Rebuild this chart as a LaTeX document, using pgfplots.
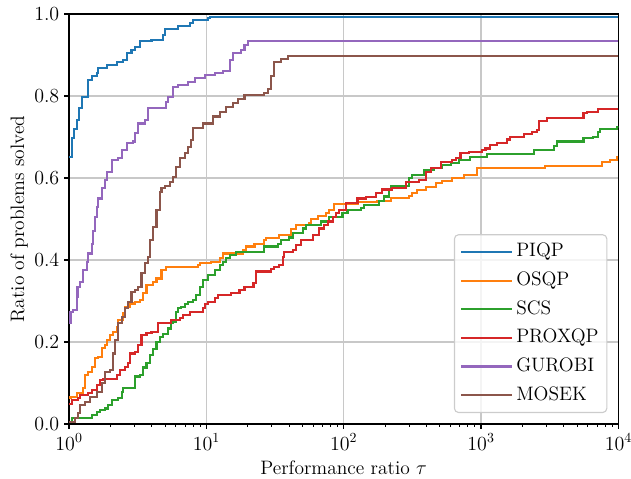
\documentclass[border=0pt]{standalone}
\usepackage{fontspec}
\usepackage{pgfplots}
\pgfplotsset{compat=1.18}
\definecolor{cpiqp}{HTML}{1F77B4}
\definecolor{cosqp}{HTML}{FF7F0E}
\definecolor{cscs}{HTML}{2CA02C}
\definecolor{cprox}{HTML}{D62728}
\definecolor{cgurobi}{HTML}{9467BD}
\definecolor{cmosek}{HTML}{8C564B}
\definecolor{gridgray}{RGB}{200,200,200}
\definecolor{framegray}{RGB}{204,204,204}
\newcommand{\fs}{\fontsize{14pt}{16pt}\selectfont}
\begin{document}
\begin{tikzpicture}
\useasboundingbox (0,0) rectangle (454.3pt,344.2pt);
\begin{axis}[
  at={(49.7pt,38.9pt)}, anchor=south west,
  scale only axis, width=395.5pt, height=295.2pt,
  xmode=log, xmin=1, xmax=10000, ymin=0, ymax=1,
  ytick={0,0.2,0.4,0.6,0.8,1},
  yticklabel style={/pgf/number format/.cd, fixed, fixed zerofill, precision=1},
  ticklabel style={font=\fs},
  label style={font=\fs},
  tick align=outside, tick pos=left,
  major tick length=3.5pt, minor tick length=2pt,
  every tick/.style={black, line width=0.8pt},
  minor tick style={line width=0.6pt},
  axis line style={line width=0.8pt},
  grid=major, major grid style={gridgray, line width=0.8pt},
  xlabel={Performance ratio $\tau$},
  ylabel={Ratio of problems solved},
  xlabel style={at={(axis description cs:0.5,0)}, anchor=base, yshift=-36pt},
  ylabel style={at={(axis description cs:-0.0819,0.5)}, anchor=base},
  every axis plot/.append style={const plot, line width=1.5pt, mark=none},
  legend cell align=left,
  legend image code/.code={\draw[#1] (0pt,0pt) -- (30pt,0pt);
    \path (0pt,0pt) -- (37pt,0pt);},
  legend style={at={(1,0)}, anchor=south east, xshift=-7.9pt, yshift=7.9pt,
    font=\fs, draw=framegray, line width=0.8pt, rounded corners=3pt,
    fill=white, fill opacity=0.8, draw opacity=1, text opacity=1,
    inner xsep=4pt, inner ysep=4pt, row sep=3.6pt,
    nodes={text height=10pt, text depth=3pt, inner sep=2pt}},
]
\addplot[cpiqp] coordinates {
(1,0.652) (1.046,0.697) (1.087,0.72) (1.137,0.741) (1.182,0.77) (1.236,0.797)
(1.367,0.839) (1.462,0.848) (1.589,0.857) (1.632,0.868) (1.878,0.876) (2.220,0.884)
(2.466,0.888) (2.624,0.906) (2.852,0.912) (3.014,0.920) (3.277,0.934) (3.986,0.937)
(4.813,0.949) (4.978,0.963) (6.184,0.971) (7.556,0.978) (7.947,0.985) (10.21,0.990)
(10.68,0.993) (10000,0.993)
};
\addlegendentry{PIQP}
\addplot[cosqp] coordinates {
(1,0.063) (1.025,0.067) (1.137,0.075) (1.270,0.087) (1.307,0.12) (1.381,0.128)
(1.462,0.14) (1.544,0.16) (1.632,0.164) (1.728,0.185) (1.825,0.193) (1.878,0.205)
(1.984,0.217) (2.097,0.225) (2.220,0.237) (2.280,0.254) (2.478,0.27) (2.551,0.286)
(2.773,0.294) (3.014,0.298) (3.277,0.302) (3.462,0.319) (3.665,0.339) (4.093,0.347)
(4.332,0.355) (4.710,0.376) (5.120,0.384) (8.685,0.388) (8.933,0.393) (10.86,0.396)
(12.48,0.404) (13.19,0.416) (18.42,0.424) (19.50,0.433) (22.40,0.44) (26.48,0.449)
(27.24,0.453) (34.02,0.461) (41.38,0.476) (44.98,0.485) (56.17,0.49) (57.80,0.499)
(64.52,0.507) (74.27,0.515) (78.47,0.523) (85.31,0.537) (126.0,0.542) (176.0,0.545)
(220.1,0.552) (298.9,0.556) (314.3,0.563) (343.4,0.571) (397,0.579) (467.0,0.587)
(521.5,0.593) (616.4,0.599) (749.6,0.607) (936.1,0.624) (2938,0.629) (7564,0.64)
(8705,0.644) (9720,0.652) (10000,0.652)
};
\addlegendentry{OSQP}
\addplot[cscs] coordinates {
(1,0.006) (1.046,0.014) (1.462,0.022) (1.589,0.03) (1.679,0.034) (1.825,0.038)
(1.929,0.046) (2.042,0.059) (2.280,0.063) (2.413,0.079) (2.478,0.087) (3.014,0.116)
(3.277,0.12) (3.462,0.138) (3.665,0.148) (3.873,0.168) (4.093,0.183) (4.332,0.201)
(4.577,0.213) (4.837,0.22) (5.259,0.233) (5.567,0.246) (5.716,0.25) (6.052,0.274)
(6.215,0.282) (6.578,0.286) (6.953,0.292) (7.346,0.298) (7.988,0.302) (8.453,0.315)
(8.933,0.335) (9.441,0.351) (10.26,0.363) (11.48,0.376) (12.48,0.388) (13.19,0.396)
(13.96,0.404) (14.75,0.412) (16.50,0.42) (26.48,0.433) (33.45,0.44) (35.00,0.449)
(40.22,0.455) (42.49,0.465) (50.23,0.477) (53.17,0.485) (68.31,0.494) (78.47,0.506)
(98.0,0.514) (106.6,0.522) (133.3,0.526) (140.9,0.535) (181.0,0.543) (196.8,0.555)
(213.9,0.571) (220.1,0.58) (298.9,0.599) (315.9,0.607) (384.0,0.62) (454.0,0.624)
(521.5,0.632) (600.2,0.636) (689.5,0.644) (828.6,0.652) (1107,0.658) (2415,0.668)
(3375,0.677) (3565,0.689) (5570,0.697) (6584,0.701) (7158,0.713) (7366,0.719)
(9720,0.725) (10000,0.727)
};
\addlegendentry{SCS}
\addplot[cprox] coordinates {
(1,0.05) (1.046,0.059) (1.168,0.063) (1.202,0.071) (1.381,0.075) (1.462,0.083)
(1.589,0.095) (1.679,0.107) (1.774,0.109) (2.220,0.12) (2.346,0.132) (2.551,0.14)
(2.695,0.148) (2.773,0.172) (3.014,0.176) (3.185,0.193) (3.371,0.217) (3.665,0.222)
(3.986,0.225) (4.449,0.246) (5.567,0.254) (6.395,0.258) (6.757,0.266) (7.556,0.274)
(9.441,0.282) (9.792,0.292) (10.26,0.298) (11.48,0.307) (12.13,0.315) (15.18,0.319)
(17.43,0.327) (18.96,0.335) (22.03,0.345) (23.16,0.372) (29.61,0.378) (31.30,0.384)
(34.02,0.388) (35.95,0.408) (37.00,0.42) (42.49,0.424) (44.98,0.437) (48.91,0.449)
(59.36,0.461) (66.39,0.477) (72.19,0.485) (76.29,0.494) (82.94,0.506) (87.80,0.514)
(92.75,0.522) (103.8,0.538) (126.0,0.55) (144.9,0.554) (171.3,0.564) (191.3,0.572)
(226.1,0.575) (282.8,0.59) (353.3,0.596) (395.1,0.615) (429.5,0.624) (507.6,0.64)
(616.4,0.644) (652.5,0.648) (709.3,0.66) (814.9,0.664) (1018,0.668) (1077,0.672)
(1171,0.681) (1308,0.685) (1546,0.694) (1636,0.701) (2043,0.707) (2348,0.713)
(2553,0.717) (2626,0.74) (3017,0.746) (5570,0.758) (5889,0.762) (7158,0.768)
(10000,0.768)
};
\addlegendentry{PROXQP}
\addplot[cgurobi] coordinates {
(1,0.246) (1.025,0.274) (1.075,0.278) (1.137,0.31) (1.153,0.335) (1.202,0.347)
(1.270,0.376) (1.344,0.396) (1.381,0.416) (1.462,0.44) (1.501,0.47) (1.544,0.506)
(1.589,0.53) (1.632,0.55) (1.728,0.575) (1.825,0.595) (1.878,0.615) (2.042,0.644)
(2.280,0.648) (2.413,0.668) (2.624,0.685) (2.930,0.689) (3.014,0.709) (3.185,0.733)
(3.562,0.741) (3.764,0.77) (5.1,0.785) (5.259,0.798) (5.716,0.822) (6.215,0.827)
(7.346,0.835) (8.217,0.843) (9.712,0.851) (11.48,0.857) (13.12,0.86) (14.75,0.888)
(15.58,0.906) (17.94,0.912) (18.96,0.924) (20.03,0.935) (10000,0.935)
};
\addlegendentry{GUROBI}
\addplot[cmosek] coordinates {
(1,0.005) (1.105,0.014) (1.168,0.026) (1.202,0.046) (1.307,0.054) (1.420,0.067)
(1.589,0.079) (1.728,0.099) (1.825,0.128) (1.984,0.132) (2.097,0.172) (2.158,0.205)
(2.280,0.246) (2.413,0.262) (2.551,0.282) (2.695,0.298) (2.852,0.323) (3.014,0.327)
(3.185,0.335) (3.371,0.368) (3.562,0.392) (3.764,0.408) (3.873,0.449) (4.093,0.481)
(4.332,0.522) (4.577,0.567) (4.710,0.575) (4.978,0.58) (5.410,0.591) (5.716,0.603)
(6.052,0.628) (6.395,0.648) (6.953,0.66) (7.346,0.676) (7.774,0.693) (7.988,0.721)
(9.441,0.733) (11.16,0.75) (12.48,0.762) (13.96,0.774) (15.58,0.782) (16.94,0.792)
(18.96,0.802) (26.48,0.807) (27.98,0.817) (29.61,0.848) (31.30,0.882) (35.00,0.89)
(39.08,0.898) (10000,0.898)
};
\addlegendentry{MOSEK}
\end{axis}
\end{tikzpicture}
\end{document}
